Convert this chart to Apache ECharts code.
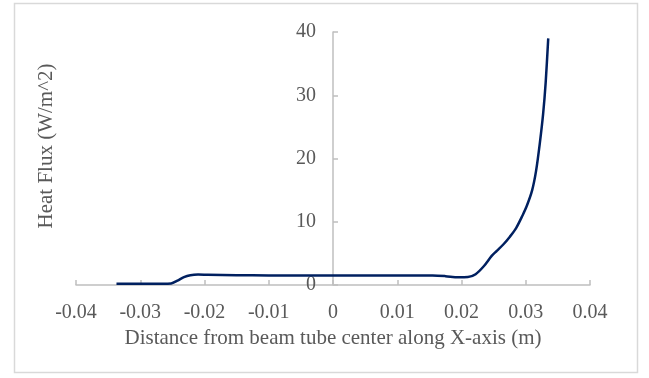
<!DOCTYPE html>
<html>
<head>
<meta charset="utf-8">
<script src="https://cdn.jsdelivr.net/npm/echarts@6/dist/echarts.min.js"></script>
<style>
html,body{margin:0;padding:0;background:#fff;}
#chart{width:649px;height:378px;}
</style>
</head>
<body>
<div id="chart"></div>
<script>
// Data
const xValues = [-0.0337, -0.030, -0.0265, -0.0252, -0.0242, -0.0232, -0.0222, -0.0210, -0.0195, -0.015, -0.010, -0.005, 0.000, 0.005, 0.010, 0.0155, 0.0175, 0.0195, 0.0210, 0.0222, 0.0235, 0.0247, 0.0255, 0.0265, 0.0275, 0.0285, 0.0295, 0.0302, 0.0310, 0.0316, 0.0322, 0.0327, 0.0331, 0.0335];
const heatFlux = [0.2, 0.2, 0.2, 0.25, 0.7, 1.25, 1.55, 1.65, 1.62, 1.55, 1.52, 1.5, 1.5, 1.5, 1.5, 1.5, 1.4, 1.22, 1.25, 1.7, 3.0, 4.6, 5.4, 6.4, 7.6, 9.0, 11.0, 12.6, 15.0, 18.0, 22.5, 27.0, 32.0, 39.0];
const xTicks = {min: -0.04, max: 0.04, step: 0.01};
const yTicks = {min: 0, max: 40, step: 10};
const xTitle = 'Distance from beam tube center along X-axis (m)';
const yTitle = 'Heat Flux (W/m^2)';

const seriesData = xValues.map((x, i) => [x, heatFlux[i]]);
const font = 'Liberation Serif';
const textColor = '#595959';
const axisColor = '#bfbfbf';

const gridLeft = 76, gridRight = 59;
const plotWidth = 649 - gridLeft - gridRight;

const chart = echarts.init(document.getElementById('chart'), null, {renderer: 'canvas'});
chart.setOption({
  animation: false,
  backgroundColor: '#ffffff',
  graphic: [{
    type: 'rect', silent: true,
    shape: {x: 14.5, y: 3.5, width: 623, height: 369},
    style: {fill: 'none', stroke: '#d9d9d9', lineWidth: 1.5}
  }, {
    type: 'text', silent: true,
    x: 46, y: 146, rotation: Math.PI / 2,
    style: {text: yTitle, fontFamily: font, fontSize: 21, fill: textColor,
      align: 'center', verticalAlign: 'middle'}
  }],
  grid: {left: gridLeft, right: gridRight, top: 32, bottom: 93, containLabel: false, outerBoundsMode: 'none'},
  xAxis: {
    type: 'value',
    min: xTicks.min, max: xTicks.max, interval: xTicks.step,
    name: xTitle, nameLocation: 'middle', nameGap: 40,
    nameTextStyle: {fontFamily: font, fontSize: 21, color: textColor},
    axisLine: {show: true, onZero: false, lineStyle: {color: axisColor, width: 1.5}},
    axisTick: {show: true, inside: true, length: 5, lineStyle: {color: axisColor, width: 1.5}},
    axisLabel: {fontFamily: font, fontSize: 20, color: textColor, margin: 18,
      formatter: v => String(Math.round(v * 100) / 100)},
    splitLine: {show: false}
  },
  yAxis: {
    type: 'value',
    position: 'left',
    offset: -plotWidth * (0 - xTicks.min) / (xTicks.max - xTicks.min),
    min: yTicks.min, max: yTicks.max, interval: yTicks.step,
    axisLine: {show: true, onZero: false, lineStyle: {color: axisColor, width: 1.5}},
    axisTick: {show: true, inside: true, length: 5, lineStyle: {color: axisColor, width: 1.5}},
    axisLabel: {fontFamily: font, fontSize: 20, color: textColor, margin: 17},
    splitLine: {show: false}
  },
  series: [{
    type: 'line',
    data: seriesData,
    smooth: 0.3,
    showSymbol: false,
    symbol: 'none',
    lineStyle: {color: '#002060', width: 2.5},
    itemStyle: {color: '#002060'}
  }]
});
</script>
</body>
</html>
